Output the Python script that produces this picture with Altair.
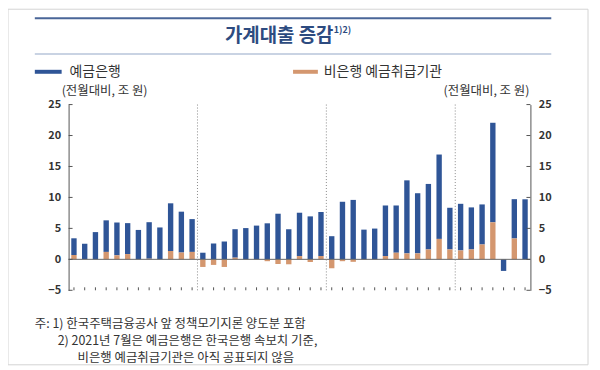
import altair as alt
import pandas as pd

# ---------------- data ----------------
months = ["18.1", "18.2", "18.3", "18.4", "18.5", "18.6", "18.7", "18.8", "18.9", "18.10", "18.11", "18.12",
          "19.1", "19.2", "19.3", "19.4", "19.5", "19.6", "19.7", "19.8", "19.9", "19.10", "19.11", "19.12",
          "20.1", "20.2", "20.3", "20.4", "20.5", "20.6", "20.7", "20.8", "20.9", "20.10", "20.11", "20.12",
          "21.1", "21.2", "21.3", "21.4", "21.5", "21.6", "21.7"]
bank = [2.7, 2.45, 4.4, 5.1, 5.3, 5.0, 4.75, 5.9, 5.15, 7.7, 6.6, 5.3,
        1.07, 2.56, 2.88, 4.6, 5.05, 5.45, 5.82, 7.37, 4.86, 7.0, 6.94, 7.1,
        3.74, 9.3, 9.6, 4.8, 4.97, 8.17, 7.63, 11.8, 9.72, 10.58, 13.63, 6.73,
        7.53, 6.79, 6.47, 16.08, -1.87, 6.35, 9.7]
nonbank = [0.7, 0.05, 0.0, 1.2, 0.65, 0.85, 0.0, 0.1, 0.0, 1.35, 1.1, 1.2,
           -1.23, -0.9, -1.23, 0.27, 0.0, 0.0, -0.3, -0.75, -0.8, 0.53, -0.43, 0.53,
           -1.44, -0.3, -0.4, -0.05, -0.05, 0.53, 1.07, 0.96, 0.96, 1.6, 3.3, 1.6,
           1.44, 1.6, 2.4, 5.98, 0.0, 3.37, None]
series_names = ["예금은행", "비은행 예금취급기관"]
label_months = ["18.1", "18.7", "19.1", "19.7", "20.1", "20.7", "21.1", "21.7"]
year_starts = ["19.1", "20.1", "21.1"]
y_ticks = [-5, 0, 5, 10, 15, 20, 25]
title_text = "가계대출 증감"
title_sup = "1)2)"
unit_text = "(전월대비, 조 원)"
notes = ["주: 1) 한국주택금융공사 앞 정책모기지론 양도분 포함",
         "2) 2021년 7월은 예금은행은 한국은행 속보치 기준,",
         "비은행 예금취급기관은 아직 공표되지 않음"]

# ---------------- tables ----------------
rows = []
for m, b, n in zip(months, bank, nonbank):
    rows.append({"month": m, "series": series_names[0], "value": b, "ord": 1})
    if n is not None:
        rows.append({"month": m, "series": series_names[1], "value": n, "ord": 0})
df = pd.DataFrame(rows)
mdf = pd.DataFrame({"month": months})
ydf = pd.DataFrame({"t": y_ticks})
bdf = pd.DataFrame({"month": year_starts})
one = pd.DataFrame({"k": [0]})

# ---------------- styles ----------------
FONT = "Noto Sans CJK KR"
BLUE = "#2f5597"
TAN = "#d4976f"
AX = "#555555"
TXT = "#333333"
W, H = 465, 187

x_scale = alt.Scale(domain=months, paddingInner=0.5, paddingOuter=0.25)
y_scale = alt.Scale(domain=[-5, 25], nice=False, zero=False)

bars = alt.Chart(df).mark_bar().encode(
    x=alt.X("month:N", scale=x_scale, sort=None, title=None,
            axis=alt.Axis(values=label_months,
                          labelExpr="slice(datum.value, 3) == '7' ? '7' : datum.value",
                          labelAngle=0, ticks=False, domain=True, domainColor=AX,
                          labelFont=FONT, labelFontSize=11, labelFontWeight="bold",
                          labelColor=TXT, labelPadding=4)),
    y=alt.Y("value:Q", scale=y_scale, stack="zero", title=None, axis=None),
    color=alt.Color("series:N", scale=alt.Scale(domain=series_names, range=[BLUE, TAN]), legend=None),
    order=alt.Order("ord:Q", sort="ascending"),
)

zero_line = alt.Chart(pd.DataFrame({"value": [0]})).mark_rule(color="#666666", strokeWidth=1).encode(
    y=alt.Y("value:Q", scale=y_scale, axis=None), x=alt.value(0), x2=alt.value(W))

month_ticks = alt.Chart(mdf).mark_rule(color=AX).encode(
    x=alt.X("month:N", scale=x_scale, sort=None, axis=None), y=alt.value(H), y2=alt.value(H - 3))

year_lines = alt.Chart(bdf).mark_rule(color="#888888", strokeDash=[1, 2], xOffset=-2.7).encode(
    x=alt.X("month:N", scale=x_scale, sort=None, axis=None, bandPosition=0),
    y=alt.value(0), y2=alt.value(H))

inner = alt.layer(bars, zero_line, month_ticks, year_lines)


def side_axis(orient, x1, x2):
    return alt.Chart(ydf).mark_rule(color=AX).encode(
        y=alt.Y("t:Q", scale=y_scale, title=None,
                axis=alt.Axis(values=y_ticks, orient=orient, grid=False, ticks=False,
                              domain=True, domainColor=AX, labelFont=FONT, labelFontSize=11,
                              labelFontWeight="bold", labelColor=TXT, labelPadding=8)),
        x=alt.value(x1), x2=alt.value(x2))


left = side_axis("left", 0, 4)
right = side_axis("right", W, W - 4)


def txt(s, x, y, size=12, color=TXT, align="left", weight="normal"):
    return alt.Chart(one).mark_text(text=s, font=FONT, fontSize=size, color=color, align=align,
                                    baseline="middle", fontWeight=weight).encode(
        x=alt.value(x), y=alt.value(y))


def hline(x1, x2, y, color, width):
    return alt.Chart(one).mark_rule(color=color, strokeWidth=width).encode(
        x=alt.value(x1), x2=alt.value(x2), y=alt.value(y))


def swatch(x1, x2, y1, y2, color):
    return alt.Chart(one).mark_rect(color=color).encode(
        x=alt.value(x1), x2=alt.value(x2), y=alt.value(y1), y2=alt.value(y2))


border = alt.Chart(one).mark_rect(filled=False, stroke="#d4d4d4", strokeWidth=1).encode(
    x=alt.value(-61), x2=alt.value(523), y=alt.value(-96), y2=alt.value(262))

annotations = [
    border,
    hline(-34, 486, -87, "#4a6698", 2),
    hline(-34, 486, -51, "#c9d3e3", 2),
    txt(title_text, 212, -69, size=19, color="#2d4b80", align="center", weight="bold"),
    txt(title_sup, 267, -75, size=9, color="#2d4b80", align="left", weight="bold"),
    swatch(-34, -7, -35, -31, BLUE),
    txt(series_names[0], 1, -33, size=14),
    swatch(226, 251, -35, -31, TAN),
    txt(series_names[1], 257, -33, size=14),
    txt(unit_text, -7, -14, size=12.5),
    txt(unit_text, 464, -14, size=12.5, align="right"),
    txt(notes[0], -34, 221, size=12.5),
    txt(notes[1], -11, 238, size=12.5),
    txt(notes[2], 9, 255, size=12.5),
]

chart = alt.layer(inner, left, right, *annotations).resolve_scale(y="independent").properties(
    width=W, height=H,
    padding={"left": 61, "top": 96, "right": 62, "bottom": 76},
    autosize="none",
).configure_view(strokeWidth=0)

chart.save("out.html", embed_options={"renderer": "svg", "actions": False})
